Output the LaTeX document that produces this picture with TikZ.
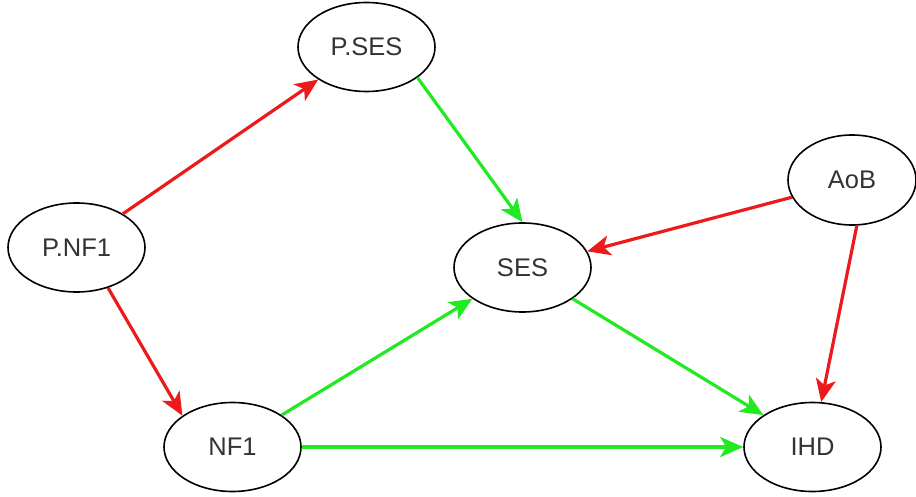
\documentclass[tikz,border=0pt]{standalone}
\usepackage{fontspec}
\setmainfont{Liberation Sans}
\usetikzlibrary{shapes.geometric,arrows.meta}
\definecolor{ared}{HTML}{EC1A1A}
\definecolor{agreen}{HTML}{22EA22}
\definecolor{txt}{HTML}{333333}
\tikzset{
  ell/.style={ellipse, draw=black, line width=1.6pt, fill=white, inner sep=0pt,
    minimum width=137pt, minimum height=89pt, text=txt, font=\fontsize{25.5}{28}\selectfont},
  redarr/.style={draw=ared, line width=3.2pt, -{Stealth[length=23pt,width=20pt,inset=6pt]}},
  greenarr/.style={draw=agreen, line width=3.2pt, -{Stealth[length=23pt,width=20pt,inset=6pt]}}
}
\begin{document}
\begin{tikzpicture}[x=1pt,y=-1pt]
\path[use as bounding box, fill=white] (0,0) rectangle (916,497);
\node[ell] (pses) at (366.5,47) {P.SES};
\node[ell] (pnf1) at (76.5,247.5) {P.NF1};
\node[ell] (ses) at (522.5,267.5) {SES};
\node[ell, minimum width=128pt, minimum height=90pt] (aob) at (852,180) {AoB};
\node[ell] (nf1) at (232.5,447) {NF1};
\node[ell] (ihd) at (812.5,447) {IHD};

\draw[redarr] (pnf1.36) -- (pses.214);
\draw[redarr] (pnf1.-52) -- (nf1.148);
\draw[greenarr] (pses.-31) -- (ses.90);
\draw[redarr] (aob.196) -- (ses.14);
\draw[redarr] (aob.-84) -- (ihd.79);
\draw[greenarr] (nf1.33) -- (ses.212);
\draw[greenarr] (nf1.0) -- (ihd.180);
\draw[greenarr] (ses.-32.5) -- (ihd.147);
\end{tikzpicture}
\end{document}
